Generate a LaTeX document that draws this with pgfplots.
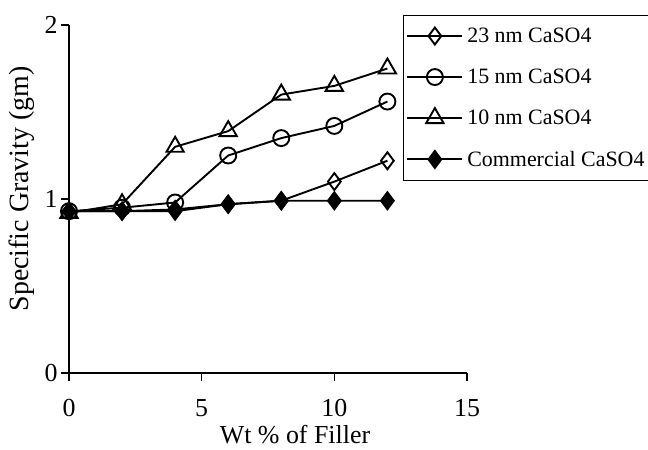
\documentclass[border=0pt]{standalone}
\usepackage{fontspec}
\setmainfont{Liberation Serif}
\usepackage{pgfplots}
\pgfplotsset{compat=1.18}
\begin{document}
\begin{tikzpicture}
\begin{axis}[
  scale only axis, width=398bp, height=348bp,
  xmin=0, xmax=15, ymin=0, ymax=2,
  axis lines*=left,
  axis line style={line width=2bp, black},
  xtick={0,5,10,15}, ytick={0,1,2},
  tick align=outside, major tick length=8bp,
  tick style={line width=1.5bp, black},
  /pgf/number format/assume math mode=true,
  ticklabel style={font=\fontsize{26}{30}\selectfont},
  xticklabel style={anchor=base, yshift=-35bp, inner ysep=0bp},
  yticklabel style={anchor=east, xshift=0bp},
  xlabel={Wt \% of Filler},
  ylabel={Specific Gravity (gm)},
  ylabel style={font=\fontsize{28}{33}\selectfont},
  xlabel style={font=\fontsize{26}{30}\selectfont, at={(axis description cs:0.568,-0.202)}, anchor=base, inner ysep=0bp},
  ylabel style={at={(axis description cs:-0.118,0.529)}, anchor=center, rotate=0},
  legend style={at={(0.839,1.03)}, anchor=north west, draw=black, line width=1bp,
    font=\fontsize{22}{26}\selectfont, row sep=21bp, inner xsep=3bp, inner ysep=11bp,
    legend cell align=left, nodes={inner xsep=4bp}},
  legend image code/.code={\draw[mark repeat=2,mark phase=2] plot coordinates {(0bp,0bp)(27.5bp,0bp)(55bp,0bp)};},
  every axis plot/.append style={black, line width=1.9bp, mark options={solid, line width=1.4bp}},
  clip=false,
]
\addplot[mark=diamond, mark size=8.5bp, mark options={fill=white}] coordinates {
 (0,0.93) (2,0.93) (4,0.94) (6,0.97) (8,0.99) (10,1.10) (12,1.22)};
\addlegendentry{23 nm CaSO4}
\addplot[mark=o, mark size=8bp, mark options={fill=white}] coordinates {
 (0,0.93) (2,0.95) (4,0.98) (6,1.25) (8,1.35) (10,1.42) (12,1.56)};
\addlegendentry{15 nm CaSO4}
\addplot[mark=triangle, mark size=10bp, mark options={fill=white}] coordinates {
 (0,0.92) (2,0.97) (4,1.30) (6,1.39) (8,1.60) (10,1.65) (12,1.75)};
\addlegendentry{10 nm CaSO4}
\addplot[mark=diamond*, mark size=8.5bp, mark options={fill=black}] coordinates {
 (0,0.93) (2,0.93) (4,0.93) (6,0.97) (8,0.99) (10,0.99) (12,0.99)};
\addlegendentry{Commercial CaSO4}
\end{axis}
\pgfresetboundingbox
\path[use as bounding box] (-69bp,-77bp) rectangle (579bp,373bp);
\end{tikzpicture}
\end{document}
